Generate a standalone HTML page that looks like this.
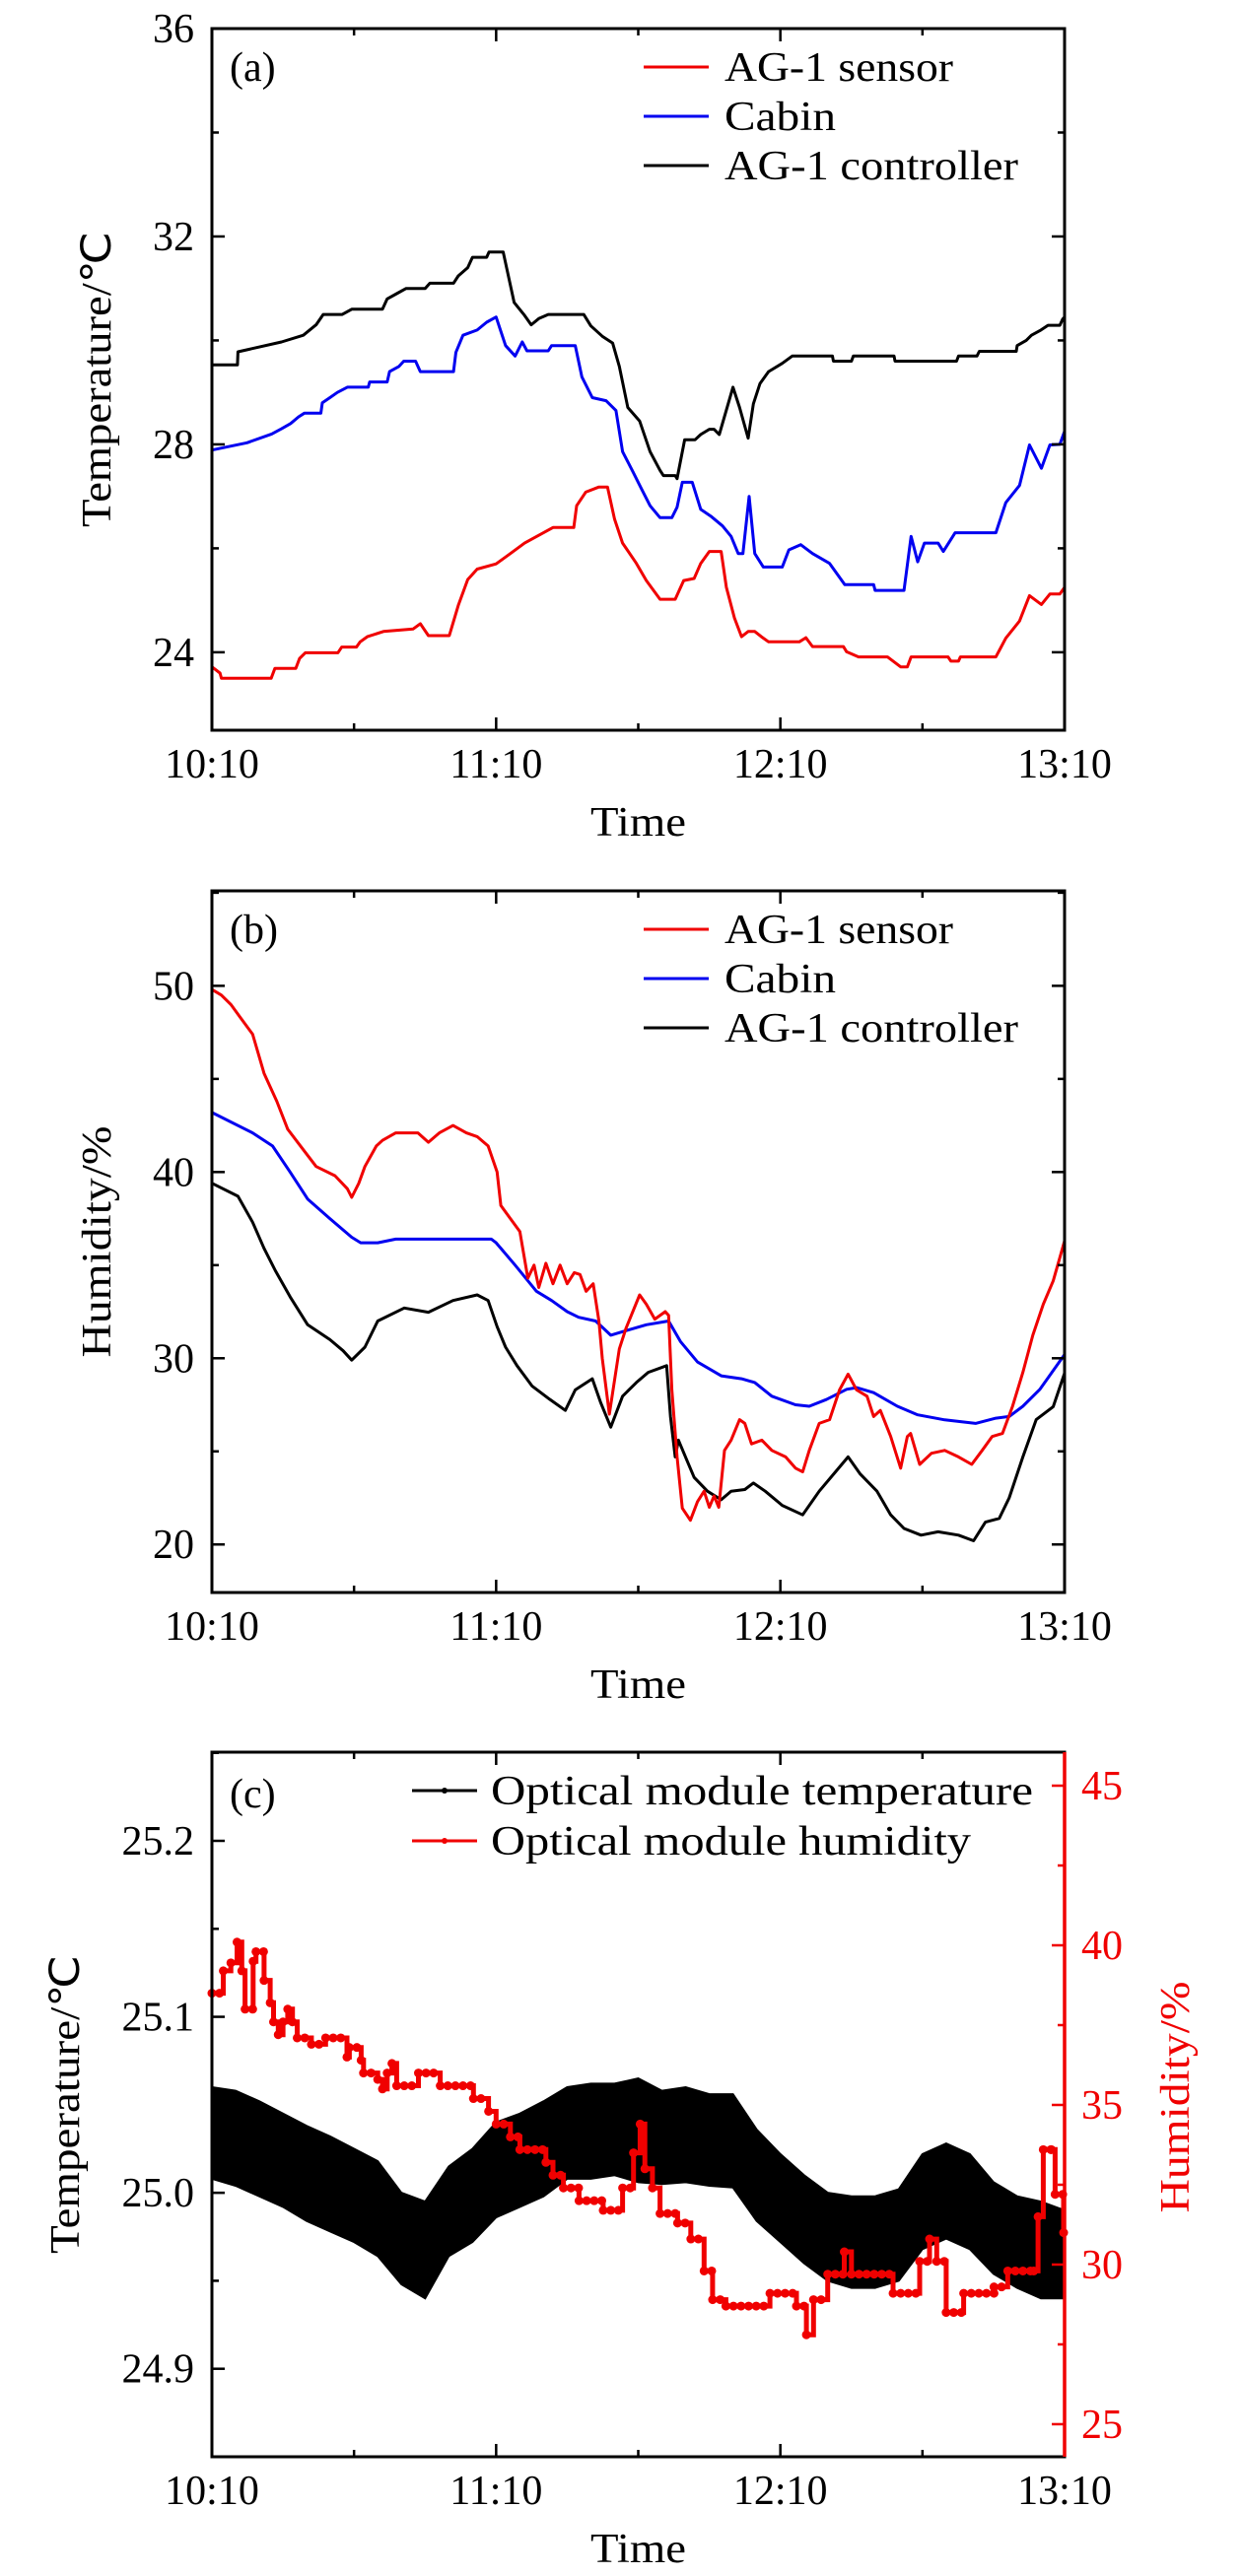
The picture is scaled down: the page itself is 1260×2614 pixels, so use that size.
<!DOCTYPE html>
<html><head><meta charset="utf-8"><title>Temperature and humidity</title>
<style>html,body{margin:0;padding:0;background:#fff}svg{display:block}text{font-family:"Liberation Serif",serif}</style>
</head><body>
<svg id="fig" width="1260" height="2614" viewBox="0 0 1260 2614" xmlns="http://www.w3.org/2000/svg"></svg>
<script>
// ---------- Panel (a) data: minutes after 10:10, temperature (°C) ----------
const aSensorT=[0,1.7,2,12.5,13.3,17.7,18.5,19.7,26.6,27.4,30.5,31.3,32.8,36.2,42.5,44,45.7,50.1,52,54,56,60,63,66,70,72,76.4,77,78.9,81.7,83.5,85,86.7,89.6,91.7,94.6,97.8,99.6,101.8,103.2,105,107.5,108.6,110.3,111.8,113.2,114.6,116,117.5,124,125.4,126.8,133.3,134,136.5,142.6,145.4,146.8,147.6,155.4,156,157.6,158,165.5,167.6,170.5,172.6,175.1,176.9,179,180];
const aSensorV=[23.72,23.6,23.5,23.5,23.69,23.69,23.88,23.99,23.99,24.1,24.1,24.2,24.3,24.4,24.45,24.55,24.32,24.32,24.9,25.4,25.6,25.7,25.9,26.1,26.3,26.4,26.4,26.82,27.08,27.18,27.18,26.56,26.1,25.71,25.38,25.02,25.02,25.38,25.42,25.71,25.94,25.94,25.25,24.66,24.3,24.4,24.4,24.3,24.2,24.2,24.28,24.11,24.11,24.01,23.91,23.91,23.72,23.72,23.91,23.91,23.83,23.83,23.91,23.91,24.27,24.6,25.09,24.92,25.12,25.12,25.25];
const aCabinT=[0,7.4,12.6,14.7,16.6,18.3,19.5,23,23.3,24.9,26.5,28.6,33,33.3,37,37.5,39.5,40.5,43,44,51,51.5,53,56,58,60,62,64,65.5,66.5,71,71.7,76.7,78.1,80.3,83.2,85.3,86.7,88.9,90.7,92.5,94.6,97.1,98.2,99.3,101.4,103.2,105.3,107.8,109.6,111.1,112.1,113.4,114.6,116.4,120.4,121.8,124.3,126.8,130.4,133.6,139.7,140,146.1,147.6,149,150.4,153.3,154.4,156.9,165.5,167.6,170.5,172.6,175.1,176.9,179,180];
const aCabinV=[27.89,28.03,28.2,28.3,28.4,28.53,28.6,28.6,28.8,28.9,29.0,29.1,29.1,29.2,29.2,29.4,29.5,29.6,29.6,29.4,29.4,29.77,30.1,30.2,30.35,30.45,29.9,29.7,29.97,29.8,29.8,29.9,29.9,29.3,28.9,28.84,28.65,27.86,27.47,27.14,26.82,26.59,26.59,26.79,27.27,27.27,26.75,26.62,26.43,26.23,25.9,25.9,27.0,25.9,25.64,25.64,25.97,26.07,25.9,25.71,25.3,25.3,25.19,25.19,26.23,25.74,26.1,26.1,25.94,26.3,26.3,26.88,27.21,27.99,27.54,27.99,28.0,28.25];
const aCtrlT=[0,5.4,5.5,14.7,19.3,22,23.5,27.5,29.5,36,37,39,41,45,46,51,52,54,55,58,58.5,61.5,63.8,66,67.4,69,71,78.5,80,82.4,84.6,86,87.8,90.3,92.5,94.6,95.3,97.8,98.2,99.8,102,103.2,105,106,107.1,110,111.4,113.2,114.3,115.7,117.5,120.4,122.5,131,131.2,135,135.4,144,144.2,157.2,157.6,161.5,162,169.8,170,171.9,173,175,176.5,179,179.6,180];
const aCtrlV=[29.53,29.53,29.78,29.97,30.1,30.3,30.5,30.5,30.6,30.6,30.8,30.9,31.0,31.0,31.1,31.1,31.24,31.4,31.6,31.6,31.7,31.7,30.73,30.48,30.3,30.42,30.5,30.5,30.28,30.08,29.95,29.5,28.71,28.45,27.86,27.5,27.4,27.4,27.34,28.09,28.09,28.19,28.29,28.29,28.19,29.1,28.71,28.12,28.78,29.17,29.4,29.56,29.7,29.7,29.6,29.6,29.7,29.7,29.6,29.6,29.7,29.7,29.79,29.79,29.9,30.0,30.1,30.2,30.29,30.29,30.41,30.45];
const aYTicks=[24,28,32,36];
// ---------- Panel (b) data: humidity (%) ----------
const bSensorT=[0,2,4,6,8.6,11,13.7,16,19.3,22,26,28.6,29.5,31,32.3,34.7,36,38.8,43.5,45.7,48,50.9,53.7,56,58.3,60.2,61,63,65,66.7,68,69,70.5,72,73.5,75,76.5,77.7,79,80.5,81.7,82.4,83.9,86,87.4,90.3,91.7,93.5,95.7,96.4,97.1,98.2,99.3,101,102.5,103.9,105,106,107,108.2,109.6,111.4,112.5,113.9,116.1,118.2,121.1,123.2,124.7,126.1,128.2,130.4,132.5,134.3,136.1,138.3,139.7,141.1,143.3,145.4,146.8,147.5,149.4,151.9,154.7,157.6,160.4,162.6,164.7,166.9,169,171.2,173.3,175.5,177.6,180];
const bSensorV=[49.8,49.5,49.0,48.3,47.4,45.3,43.8,42.3,41.2,40.3,39.8,39.1,38.64,39.4,40.3,41.4,41.7,42.1,42.1,41.6,42.1,42.5,42.1,41.9,41.4,40.0,38.2,37.5,36.8,34.3,35.0,33.8,35.1,34.0,35.0,34.0,34.6,34.5,33.6,34.0,32.0,30.0,27.0,30.5,31.6,33.4,32.9,32.1,32.5,32.3,28.3,24.7,21.95,21.3,22.3,22.86,22.0,22.6,22.0,25.05,25.6,26.7,26.5,25.4,25.6,25.05,24.7,24.1,23.9,25.05,26.5,26.7,28.3,29.15,28.3,27.96,26.87,27.2,25.8,24.1,25.8,25.96,24.3,24.9,25.05,24.7,24.3,25.05,25.8,25.96,27.4,29.24,31.24,32.9,34.16,36.3];
const bCabinT=[0,8.6,12.8,16.5,20.2,24.9,29.5,31.4,35,38.8,59,60,64,68.5,71.7,75,77.4,81,84.2,86.7,91.7,96.4,98.9,102.5,107.5,111.8,114.6,118.2,123.2,126.1,129.7,134,136.1,139.7,144.7,149,154.7,161.2,165.5,168.3,171.2,174.8,180];
const bCabinV=[43.2,42.1,41.4,40.0,38.55,37.5,36.5,36.2,36.2,36.4,36.4,36.2,35.0,33.6,33.1,32.5,32.2,32.0,31.24,31.43,31.8,32.0,30.9,29.8,29.06,28.9,28.7,27.96,27.5,27.42,27.78,28.33,28.42,28.15,27.42,26.96,26.69,26.5,26.78,26.87,27.42,28.33,30.2];
const bCtrlT=[0,5.5,8.6,11,13.4,16.5,20.2,24.9,27.7,29.5,32.3,35,40.6,45.7,50.9,56,58.3,60.2,62,64.4,67.6,71.3,74.6,76.7,80.3,82.1,84.2,86.7,89.6,92.1,96,96.8,97.8,98.5,100.3,101.8,104.6,107.5,109.6,112.5,114.3,116.8,120.4,124.7,128.2,131.8,134.3,136.8,140.4,143.3,146.1,149.7,153.3,157.6,160.8,163.3,166.2,168.3,171.2,174,177.6,180];
const bCtrlV=[39.4,38.7,37.3,35.9,34.7,33.3,31.8,31.0,30.4,29.9,30.6,32.0,32.7,32.47,33.1,33.4,33.1,31.7,30.6,29.6,28.5,27.8,27.2,28.3,28.9,27.6,26.3,27.96,28.7,29.24,29.6,26.87,24.7,25.6,24.5,23.6,22.86,22.4,22.86,22.95,23.3,22.86,22.1,21.59,22.86,23.95,24.7,23.8,22.86,21.59,20.86,20.5,20.68,20.5,20.2,21.2,21.4,22.5,24.7,26.7,27.4,29.2];
const bYTicks=[20,30,40,50];
// ---------- Panel (c) data ----------
const cTempT=[0,5,10,15,20,25,30,35,40,45,50,55,60,65,70,75,80,85,90,95,100,105,110,115,120,125,130,135,140,145,150,155,160,165,170,175,180];
const cTempMid=[25.034,25.03,25.025,25.018,25.01,25.005,24.998,24.99,24.975,24.967,24.99,24.998,25.012,25.018,25.025,25.034,25.035,25.036,25.034,25.032,25.033,25.03,25.03,25.01,24.997,24.985,24.975,24.972,24.972,24.975,24.995,25.0,24.995,24.98,24.972,24.968,24.965];
const cTempHi=[25.06,25.058,25.052,25.045,25.038,25.032,25.025,25.018,25.0,24.995,25.015,25.025,25.04,25.045,25.052,25.06,25.062,25.062,25.065,25.058,25.06,25.056,25.056,25.036,25.022,25.01,25.0,24.998,24.998,25.002,25.022,25.028,25.022,25.006,24.998,24.995,24.99];
const cTempLo=[25.008,25.004,24.998,24.992,24.984,24.978,24.972,24.964,24.948,24.94,24.964,24.972,24.986,24.992,24.998,25.008,25.008,25.01,25.006,25.005,25.006,25.004,25.003,24.984,24.972,24.96,24.95,24.946,24.946,24.95,24.968,24.974,24.968,24.954,24.946,24.94,24.94];
const cHumT=[0,2.4,4,5.3,6.3,7,8.7,9.3,11,12.3,13,14,15,16,17,18,21,24,28.5,29,31.5,32,35,36,37,38,39,43.6,48.2,55.2,58.4,60,63,65,70.5,72,74.2,77.5,82.6,86.7,89,90.4,91.4,93,94.6,98.3,101.1,103.9,105.7,108.5,117.8,123.4,125.5,127,130,133.5,135,143.8,149.4,151.5,153,155,158.7,165.1,168,173.5,174.4,175.5,177.2,178,179.8];
const cHumV=[38.5,39.2,39.45,40.1,39.2,38.0,39.5,39.8,38.9,38.2,37.6,37.2,37.6,38.0,37.6,37.1,36.9,37.1,36.5,36.8,36.4,36.0,35.8,35.5,36.0,36.3,35.6,36.0,35.6,35.2,34.8,34.4,34.0,33.6,33.2,32.8,32.4,32.0,31.7,32.4,33.5,34.4,33.0,32.4,31.6,31.3,30.8,29.8,28.9,28.7,29.1,28.7,27.8,28.9,29.7,30.4,29.7,29.1,30.1,30.8,30.1,28.5,29.1,29.3,29.8,29.8,31.5,33.6,33.6,32.2,31.0];
const cLeftTicks=[24.9,25.0,25.1,25.2];
const cRightTicks=[25,30,35,40,45];
const xTickLabels=["10:10","11:10","12:10","13:10"];

const NS="http://www.w3.org/2000/svg";
const svg=document.getElementById('fig');
function mk(tag,attrs,parent){const e=document.createElementNS(NS,tag);for(const k in attrs)e.setAttribute(k,attrs[k]);(parent||svg).appendChild(e);return e;}
const X0=215,X1=1080;
const xs=t=>X0+(X1-X0)*t/180;
function yScale(d0,d1,top,bot){return v=>bot-(v-d0)/(d1-d0)*(bot-top);}

function frame(top,bot,name){
  const r=mk('rect',{x:X0,y:top,width:X1-X0,height:bot-top,fill:'none',stroke:'#000','stroke-width':3});
  
  
  for(let m=0;m<=180;m+=30){
    const major=m%60===0;const L=major?13:7;
    const t=mk('line',{x1:xs(m),x2:xs(m),y1:bot,y2:bot-L,stroke:'#000','stroke-width':2.5});
    
    
    const t2=mk('line',{x1:xs(m),x2:xs(m),y1:top,y2:top+L,stroke:'#000','stroke-width':2.5});
    
    
  }
  xTickLabels.forEach((s,i)=>{
    const tx=mk('text',{x:xs(i*60),y:bot+48,'text-anchor':'middle','font-size':42,style:'fill:#000'});
    tx.textContent=s;
    
    
  });
  const tt=mk('text',{x:(X0+X1)/2,y:bot+107,'text-anchor':'middle','font-size':42,textLength:97,lengthAdjust:'spacingAndGlyphs',style:'fill:#000'});
  tt.textContent='Time';
  
  
}
function yticks(ticks,minorStep,ys,name,d0,d1,side,color){
  const xa=side==='r'?X1:X0;const dir=side==='r'?-1:1;
  for(let v=Math.ceil(d0/minorStep)*minorStep;v<=d1+1e-9;v+=minorStep){
    const major=ticks.some(k=>Math.abs(k-v)<1e-6);
    const L=major?13:7;
    const l=mk('line',{x1:xa,x2:xa+dir*L,y1:ys(v),y2:ys(v),stroke:color,'stroke-width':2.5});
    
    
    if(side==='l'&&name!=='panel-c'){
      const l2=mk('line',{x1:X1,x2:X1-L,y1:ys(v),y2:ys(v),stroke:color,'stroke-width':2.5});
      
      
    }
  }
  ticks.forEach(v=>{
    const dec=(name==='panel-c'&&side==='l')?1:0;
    const t=mk('text',{x:side==='r'?X1+17:X0-18,y:ys(v)+14,'text-anchor':side==='r'?'start':'end','font-size':42,style:'fill:'+color});
    t.textContent=v.toFixed(dec);
    
    
  });
}
function ytitle(txt,x,y,len,name,color){
  const t=mk('text',{x:x,y:y,transform:`rotate(-90 ${x} ${y})`,'text-anchor':'middle','font-size':42,style:'fill:'+(color||'#000'),textLength:len,lengthAdjust:'spacingAndGlyphs'});
  t.textContent=txt;
  
  
}
function series(T,V,ys,color,name,w){
  const pts=T.map((t,i)=>xs(t).toFixed(1)+','+ys(V[i]).toFixed(1)).join(' ');
  const p=mk('polyline',{points:pts,fill:'none',stroke:color,'stroke-width':w||3,'stroke-linejoin':'round'});
  
  
}
function panelLabel(s,y,name){
  const t=mk('text',{x:233,y:y,'font-size':42,style:'fill:#000'});
  t.textContent=s;
  
  
}
function legend(entries,x,y0,dy,name,marker){
  entries.forEach((e,i)=>{
    const y=y0+i*dy;
    const l=mk('line',{x1:x,x2:x+66,y1:y,y2:y,stroke:e.c,'stroke-width':3});
    
    
    if(marker){
      const c=mk('circle',{cx:x+33,cy:y,r:3,fill:e.c});
      
      
    }
    const t=mk('text',{x:x+(marker?80:82),y:y+14,'font-size':42,textLength:e.w,lengthAdjust:'spacingAndGlyphs',style:'fill:#000'});
    t.textContent=e.s;
    
    
  });
}
const RED='#f00000',BLUE='#0000f0';

// Panel a
{const top=29,bot=741,d0=22.5,d1=36;const ys=yScale(d0,d1,top,bot);
 series(aCtrlT,aCtrlV,ys,'#000','a-controller-line');
 series(aCabinT,aCabinV,ys,BLUE,'a-cabin-line');
 series(aSensorT,aSensorV,ys,RED,'a-sensor-line');
 frame(top,bot,'panel-a');yticks(aYTicks,2,ys,'panel-a',d0,d1,'l','#000');
 ytitle('Temperature/℃',112,(top+bot)/2,300,'panel-a-y-axis-title');
 panelLabel('(a)',82,'panel-a-label');
 legend([{s:'AG-1 sensor',c:RED,w:232},{s:'Cabin',c:BLUE,w:113},{s:'AG-1 controller',c:'#000',w:298}],653,68,50,'panel-a-legend');
}
// Panel b
{const top=904,bot=1616,d0=17.42,d1=55.1;const ys=yScale(d0,d1,top,bot);
 series(bCtrlT,bCtrlV,ys,'#000','b-controller-line');
 series(bCabinT,bCabinV,ys,BLUE,'b-cabin-line');
 series(bSensorT,bSensorV,ys,RED,'b-sensor-line');
 frame(top,bot,'panel-b');yticks(bYTicks,5,ys,'panel-b',d0,d1,'l','#000');
 ytitle('Humidity/%',112,(top+bot)/2,235,'panel-b-y-axis-title');
 panelLabel('(b)',957,'panel-b-label');
 legend([{s:'AG-1 sensor',c:RED,w:232},{s:'Cabin',c:BLUE,w:113},{s:'AG-1 controller',c:'#000',w:298}],653,943,50,'panel-b-legend');
}
// Panel c
{const top=1778,bot=2493,d0=24.85,d1=25.2504,h0=23.98,h1=46.05;
 const ys=yScale(d0,d1,top,bot),yh=yScale(h0,h1,top,bot);
 const up=cTempT.map((t,i)=>xs(t).toFixed(1)+','+ys(cTempHi[i]).toFixed(1));
 const dn=cTempT.map((t,i)=>xs(t).toFixed(1)+','+ys(cTempLo[i]).toFixed(1)).reverse();
 const band=mk('polygon',{points:up.concat(dn).join(' '),fill:'#000',stroke:'#000','stroke-width':2});
 
 
 series(cTempT,cTempMid,ys,'#000','c-temperature-line',3);
 let pts=[];cHumT.forEach((t,i)=>{if(i>0)pts.push(xs(t).toFixed(1)+','+yh(cHumV[i-1]).toFixed(1));pts.push(xs(t).toFixed(1)+','+yh(cHumV[i]).toFixed(1));});
 const hp=mk('polyline',{points:pts.join(' '),fill:'none',stroke:RED,'stroke-width':5});
 
 
 cHumT.forEach((t,i)=>{
   const tEnd=i<cHumT.length-1?cHumT[i+1]:180;
   for(let s=t;s<tEnd;s+=1.6){
     const c=mk('circle',{cx:xs(s),cy:yh(cHumV[i]),r:4.5,fill:RED});
     
     
   }
 });
 frame(top,bot,'panel-c');
 yticks(cLeftTicks,0.05,ys,'panel-c',24.85,25.25,'l','#000');
 const ra=mk('line',{x1:X1,x2:X1,y1:top,y2:bot,stroke:RED,'stroke-width':3.5});
 
 
 yticks(cRightTicks,2.5,yh,'panel-c-right',h0,h1,'r',RED);
 ytitle('Temperature/℃',80,(top+bot)/2,303,'panel-c-y-axis-title');
 ytitle('Humidity/%',1206,2128,235,'panel-c-right-axis-title',RED);
 panelLabel('(c)',1834,'panel-c-label');
 legend([{s:'Optical module temperature',c:'#000',w:550},{s:'Optical module humidity',c:RED,w:487}],418,1817,51,'panel-c-legend',true);
}
</script>
</body></html>
